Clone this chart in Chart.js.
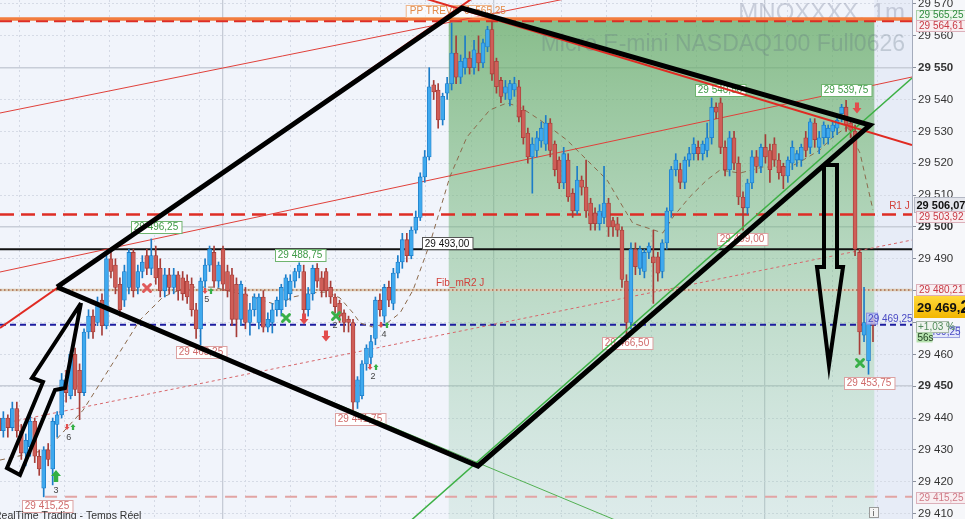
<!DOCTYPE html>
<html>
<head>
  <title>MNQXXXX 1m</title>
  <meta http-equiv="Content-Type" content="text/html; charset=utf-8" />
  <script src="https://cdn.jsdelivr.net/npm/chart.js@4.4.0/dist/chart.umd.min.js"></script>
  <style>
    html, body { margin: 0; padding: 0; background: #f6f7fa; overflow: hidden; }
    #wrap { width: 965px; height: 519px; }
  </style>
</head>
<body>
  <div id="wrap"><canvas id="chart" width="965" height="519"></canvas></div>
  <script>
    // candles, one per minute
    var opens = [
      29440,29436,29440,29437,29443,29436,29429,29431,29439,29428,
      29418,29430,29424,29438,29441,29452,29447,29460,29455,29448,
      29467,29472,29470,29477,29469,29490,29488,29482,29477,29481,
      29492,29481,29486,29491,29487,29491,29487,29480,29485,29481,
      29485,29484,29483,29482,29474,29468,29483,29488,29492,29483,
      29493,29486,29485,29482,29471,29479,29470,29474,29470,29478,
      29468.5,29470,29474,29474,29477,29479,29483,29486,29486,29474,
      29479,29487,29484,29486,29481,29478,29476,29473,29471,29470,
      29445,29447,29457,29459,29465,29477,29472,29481,29476,29485.5,
      29489,29496,29491,29499,29503,29515.7,29522,29544.6,29543,29533.6,
      29542,29545,29554.6,29547,29550,29553,29550,29554.6,29551.5,29556.5,
      29562,29552,29546,29542,29540,29543,29544,29536.7,29529.5,29522,
      29524,29527,29526,29532.6,29526,29521,29513.8,29521,29510.6,29505,
      29514.7,29512.5,29507.5,29504.4,29501,29503,29507.5,29502,29501,29499,
      29483,29470,29493,29487,29486,29492,29490.6,29490.6,29486,29495,
      29505,29518,29518,29514,29521,29523,29525,29523,29524,29528,
      29537.6,29539,29525,29518,29528,29520,29509.4,29506,29513.8,29522,
      29519,29525,29524,29526,29521,29519,29516,29520,29521,29521,
      29528,29525,29532.6,29525,29528,29528,29530,29531,29535.6,29537.6,
      29532.6,29530,29492,29466,29458,29471
    ];
    var highs = [
      29442,29442,29441,29445,29445,29438,29435,29442,29440,29430,
      29431,29432,29440,29442,29454,29455,29461,29462,29457,29468,
      29474,29474,29478,29479,29491,29492,29490,29484,29488,29493,
      29493,29488,29491,29493,29496.25,29494,29490,29487,29487,29487,
      29486,29486,29485,29484,29476,29484,29490,29494,29494,29489,
      29494,29488,29487,29484,29483,29481,29476,29479,29479,29480,
      29473,29476,29478,29482,29485,29485,29487,29488.75,29488,29481,
      29488,29488.5,29486,29487,29483,29479,29477,29474,29472,29471,
      29453,29458,29463,29466,29478,29479,29482,29483,29487,29491,
      29498,29498,29500,29505,29517,29524,29550,29546,29545,29542,
      29547,29564,29560,29554,29560,29555,29558.6,29560,29559,29563,
      29564.5,29553,29547,29546,29546,29547,29546,29538,29531,29528,
      29530,29533,29535,29534,29527,29522,29525,29523,29512,29519,
      29516,29521,29509,29506,29507,29519,29509,29503,29503,29500,
      29485,29495,29495,29494,29493,29495,29499,29492,29496,29506,
      29519,29523,29520,29522,29525,29528,29527,29527,29532.6,29540.5,
      29539,29540.5,29527,29530,29530,29522,29511,29515,29524,29524,
      29526,29529,29526,29528,29523,29520,29522,29527,29524,29526,
      29530,29534,29534,29530,29533,29532,29533,29534,29538.5,29539.75,
      29534,29532,29493,29481,29472,29472
    ];
    var lows = [
      29433,29434,29434,29436,29434,29427,29425,29428,29426,29422,
      29415.25,29425,29419,29434,29440,29445,29446,29447,29439.5,29447,
      29465,29465,29469,29466,29468,29484,29479,29472,29475,29479,
      29478,29479,29484,29485,29485,29482,29478,29478,29479,29479,
      29477,29477,29476,29472,29465,29463,29481,29486,29481,29481,
      29480,29478,29469,29465.5,29469,29468,29466,29472,29468,29467,
      29467,29466.7,29472,29472,29475,29477,29481,29484,29472,29472,
      29477,29481,29478,29478,29476,29473,29470,29467,29467,29441.75,
      29443,29446,29455,29457,29463,29472,29470,29475,29474,29484,
      29487,29489,29490,29498,29502,29514,29521,29540,29531,29532,
      29540,29543,29545,29545,29548,29548,29548,29549,29550,29555,
      29546,29542,29539,29540,29538,29541,29533,29526,29520,29510.6,
      29522,29525,29524,29522,29516,29512,29512,29508,29503,29504,
      29510,29503,29499,29499,29499,29501,29497,29497,29497,29481,
      29466.5,29468,29485,29485,29484,29490,29476,29483,29484,29493,
      29503,29516,29512,29512,29519,29521,29521,29521,29522,29526,
      29534,29523,29516,29516,29518,29507,29499,29504,29512,29517,
      29517,29520,29514,29519,29515,29512,29514,29518,29519,29519,
      29522,29523,29525,29523,29526,29526,29528,29529,29533,29530,
      29528,29491,29460,29464,29453.75,29464
    ];
    var closes = [
      29436,29440,29437,29443,29436,29429,29433,29439,29428,29424,
      29430,29427,29439,29441,29452,29448,29460,29449,29448,29467,
      29472,29467,29476,29469,29490,29486,29481,29474,29486,29492,
      29480,29486,29489,29487,29491,29484,29480,29485,29481,29485,
      29480,29479,29478,29474,29468,29483,29488,29493,29483,29488,
      29482,29480,29471,29471,29482,29470,29474,29478,29478,29468.5,
      29471,29474,29477,29481,29484,29483,29486,29488,29474,29479,
      29487,29483,29480,29480,29478,29475,29472,29470,29470,29445,
      29452,29457,29462,29464,29477,29474,29481,29477,29485.5,29489,
      29496,29491,29499,29503,29515.7,29522,29544,29542.4,29533.6,29541,
      29545,29554.6,29547,29552,29553,29550,29555.6,29551.5,29557.8,29562,
      29548,29544,29541,29544,29545,29545,29534.5,29528,29522,29526,
      29528,29531,29532.6,29524,29518,29513.8,29523,29509.4,29505,29514.7,
      29512.5,29505,29501,29501,29505,29507.5,29500,29500,29499,29483.5,
      29470,29493,29487.5,29493,29492,29494,29488.7,29485.5,29495,29505,
      29518,29521,29514,29521,29523,29526,29523,29526,29528,29537.6,
      29536,29525,29518,29528,29520,29509.4,29506,29513.8,29522,29519,
      29525,29522,29518,29521,29517,29516,29521,29525,29523,29525,
      29524,29533,29527.4,29528,29532,29531,29532,29533.5,29537.6,29532,
      29530.4,29493,29467,29470,29471,29469.25
    ];

    // moving average (dashed brown), sampled points
    var maIdx = [0.25,10.7,18.8,31.5,36.6,41.9,47.8,56.7,62,65.6,70,73.2,76.1,79,80.6,83.4,86.6,89.5,92.4,96.2,
                 100.6,104.4,109.5,113.3,116.2,120.7,126.7,131.2,135.7,139.2,141.4,148.1,150.4,154.1,157.9,160.9,
                 165.3,170.4,176.5,179.4,183.2,186,189.2,192.1,195];
    var maVal = [29426.8,29430,29442.5,29470.8,29478,29481.1,29481.1,29478,29475.5,29478,29479.3,29479.6,29477.7,
                 29473,29469.8,29468.6,29469.8,29473,29480.2,29495,29515.7,29528.2,29536.7,29538.9,29537.7,29533.6,
                 29527.3,29521,29514.7,29506.3,29501.2,29498.1,29503.1,29509.4,29514.7,29517.9,29516.9,29518.8,
                 29518.8,29521,29524.2,29528.2,29531.4,29523.2,29505.3];

    // horizontal levels
    var levelOrange = 29565.25, levelPPRed = 29564.61, levelR1 = 29503.92, levelRef = 29493.00;
    var levelFib = 29480.21, levelLast = 29469.25, levelLow = 29415.25;

    // trend lines [idx0, idx1], [price0, price1]
    var r1Idx = [0.25, 107.33],  r1Val = [29468.27, 29573.45];
    var r2Idx = [89.48, 203.7],  r2Val = [29574.1, 29525.72];
    var r3Idx = [0.25, 134.1],   r3Val = [29535.77, 29573.8];
    var r4Idx = [0.25, 203.7],   r4Val = [29485.85, 29547.07];
    var g1Idx = [89.48, 203.7],  g1Val = [29404.8, 29546.76];
    var g2Idx = [18.1, 138.56],  g2Val = [29477.99, 29407.36];
    var pkIdx = [0.25, 203.7],   pkVal = [29438.13, 29495.9];

    // hand drawn shapes
    var diamondIdx = [12.97, 103.31, 194.33, 106.88, 12.97];
    var diamondVal = [29481.14, 29568.74, 29532.0, 29424.94, 29481.14];
    var upArrowIdx = [18.32, 14.75, 12.52, 4.71, 1.81, 9.84, 7.39, 18.32];
    var upArrowVal = [29476.12, 29449.43, 29448.8, 29422.11, 29424.31, 29451.31, 29452.57, 29476.12];
    var dnArrowIdx = [184.07, 186.97, 186.97, 188.31, 185.18, 182.51, 184.07, 184.07];
    var dnArrowVal = [29519.45, 29519.45, 29487.42, 29487.42, 29456.65, 29487.42, 29487.42, 29519.45];

    // price notes on the chart
    var noteText = ['29 496,25','29 488,75','29 493,00','29 540,50','29 539,75','29 499,00','29 466,50','29 463,25','29 441,75','29 415,25','29 453,75'];
    var noteIdx = [35.05, 67.18, 99.97, 160.87, 188.98, 165.78, 140.12, 45.09, 80.56, 10.73, 194.11];
    var noteVal = [29500.0, 29491.19, 29494.8, 29542.99, 29542.99, 29496.2, 29463.56, 29460.73, 29439.7, 29412.38, 29450.99];
    var noteKind = ['hi','hi','ref','hi','hi','lo','lo','lo','lo','lo','lo'];

    // signal markers
    var markKind = ['xr','xg','xg','xg','dn','dn','dn','up','pair','pair','pair','pair'];
    var markIdx = [33.04, 64.05, 75.21, 192.1, 68.07, 72.97, 191.43, 12.74, 15.87, 46.65, 85.91, 83.46];
    var markVal = [29480.83, 29471.41, 29472.03, 29457.28, 29471.09, 29465.76, 29537.34, 29421.8, 29437.18, 29479.9, 29469.21, 29456.02];
    var numText = ['3','6','5','4','2','2'];
    var numIdx = [12.74, 15.6, 46.4, 85.9, 83.46, 75.0];
    var numVal = [29417.4, 29434.0, 29477.06, 29466.07, 29452.88, 29468.9];

    // right axis tags
    var tagText = ['29 565,25','29 564,61','29 506,07','29 503,92','29 480,21','29 415,25'];
    var tagVal = [29566.54, 29563.24, 29506.89, 29503.12, 29480.2, 29415.05];
    var tagKind = ['g','r','bold','r','r','p'];

    var zoneStart = 100.35, zoneEnd = 195.3;
    var X_MIN = 0.25, X_MAX = 203.7, Y_MIN = 29408.3, Y_MAX = 29571.25;
    var yTicks = [29410,29420,29430,29440,29450,29460,29470,29480,29490,29500,29510,29520,29530,29540,29550,29560,29570];
    var yMajor = [29450, 29500, 29550];
    var gridStep = 10.08, gridStart = 19.65;

    var FONT = '"Liberation Sans", Arial, sans-serif';
    var UP = '#3fa9ee', UP_EDGE = '#1c7cc8', DN = '#cf5e58', DN_EDGE = '#a63d38';

    var idx = opens.map(function (v, i) { return i; });
    var minorX = [], majorX = [];
    for (var k = -1; k < 19; k++) {
      minorX.push(gridStart + k * gridStep);
      if (k % 6 === 0) majorX.push(gridStart + k * gridStep);
    }

    function pts(xs, ys) { return xs.map(function (x, i) { return { x: x, y: ys[i] }; }); }
    function flat(p, from) { return [{ x: from === undefined ? X_MIN : from, y: p }, { x: X_MAX, y: p }]; }
    function line(data, color, width, dash, order) {
      return { type: 'line', data: data, borderColor: color, borderWidth: width, borderDash: dash || [],
               pointRadius: 0, fill: false, tension: 0, order: order, borderJoinStyle: 'miter' };
    }
    function fmt(v) { return String(v).replace(/\B(?=(\d{3})+(?!\d))/g, ' '); }
    var isUp = function (i) { return closes[i] >= opens[i]; };

    var backdrop = {
      id: 'backdrop',
      beforeDraw: function (chart) {
        var ctx = chart.ctx, a = chart.chartArea;
        ctx.save();
        ctx.fillStyle = '#f6f7fa';
        ctx.fillRect(0, 0, chart.width, chart.height);
        ctx.fillStyle = '#f1f4fb';
        ctx.fillRect(a.left, a.top, a.right - a.left, a.bottom - a.top);
        var xe = chart.scales.x.getPixelForValue(zoneEnd);
        ctx.fillStyle = '#e7ecf7';
        ctx.fillRect(xe, a.top, a.right - xe, a.bottom - a.top);
        ctx.restore();
      },
      beforeDatasetsDraw: function (chart) {
        var ctx = chart.ctx, a = chart.chartArea, sx = chart.scales.x, sy = chart.scales.y;
        var x0 = sx.getPixelForValue(zoneStart), x1 = sx.getPixelForValue(zoneEnd);
        var top = sy.getPixelForValue(levelOrange);
        ctx.save();
        var g = ctx.createLinearGradient(0, top, 0, a.bottom);
        g.addColorStop(0, 'rgba(100,170,100,0.74)');
        g.addColorStop(0.5, 'rgba(118,184,128,0.46)');
        g.addColorStop(1, 'rgba(150,204,176,0.22)');
        ctx.fillStyle = g;
        ctx.fillRect(x0, top, x1 - x0, a.bottom - top);
        ctx.textAlign = 'right';
        ctx.textBaseline = 'alphabetic';
        ctx.font = '24px ' + FONT;
        ctx.fillStyle = 'rgba(150,158,178,0.45)';
        ctx.fillText('MNQXXXX, 1m', 905, 20);
        ctx.font = '23px ' + FONT;
        ctx.fillStyle = 'rgba(95,110,125,0.28)';
        ctx.fillText('Micro E-mini NASDAQ100 Full0626', 905, 51);
        ctx.restore();
      },
      afterDatasetDraw: function (chart, args) {
        if (chart.data.datasets[args.index].label !== 'bodies') return;
        var ctx = chart.ctx, sx = chart.scales.x, sy = chart.scales.y;
        ctx.save();
        ctx.font = '10px ' + FONT;
        ctx.textBaseline = 'middle';
        ctx.textAlign = 'center';
        noteText.forEach(function (t, i) {
          var cx = sx.getPixelForValue(noteIdx[i]), cy = sy.getPixelForValue(noteVal[i]);
          var w = ctx.measureText(t).width + 6, h = 12;
          var bx = Math.round(cx - w / 2) + 0.5, by = Math.round(cy - h / 2) + 0.5;
          var kind = noteKind[i];
          ctx.fillStyle = '#ffffff';
          ctx.fillRect(bx, by, w, h);
          ctx.strokeStyle = kind === 'hi' ? '#6fb46f' : kind === 'ref' ? '#555555' : '#dca2a2';
          ctx.lineWidth = 1;
          ctx.strokeRect(bx, by, w, h);
          ctx.fillStyle = kind === 'hi' ? '#3f9a46' : kind === 'ref' ? '#111111' : '#cf6b6b';
          ctx.fillText(t, cx, cy + 0.5);
        });
        // PP label box
        var px = sx.getPixelForValue(zoneStart) - 43, py = sy.getPixelForValue(29567.8);
        ctx.fillStyle = 'rgba(255,255,255,0.55)';
        ctx.fillRect(px + 0.5, Math.round(py - 6) + 0.5, 85, 12);
        ctx.strokeStyle = '#f0b68a';
        ctx.strokeRect(px + 0.5, Math.round(py - 6) + 0.5, 85, 12);
        ctx.fillStyle = '#e38a48';
        ctx.textAlign = 'left';
        ctx.fillText('PP TREVE  J  565,25', px + 4, py + 0.5);
        ctx.fillStyle = '#d2403a';
        ctx.fillText('Fib_mR2 J', sx.getPixelForValue(97.5), sy.getPixelForValue(29482.2));
        ctx.fillText('R1 J', sx.getPixelForValue(198.6), sy.getPixelForValue(29506.5));
        // last price note
        var lx = sx.getPixelForValue(193.9), ly = sy.getPixelForValue(29471.2);
        ctx.fillStyle = 'rgba(190,200,250,0.8)';
        ctx.fillRect(lx - 1.5, ly - 5.5, 11, 11);
        ctx.strokeStyle = '#8a8ee0';
        ctx.strokeRect(lx - 1.5, ly - 5.5, 11, 11);
        ctx.fillStyle = '#4a4ac4';
        ctx.fillText('29 469,25', lx, ly + 0.5);
        // markers
        markKind.forEach(function (k, i) {
          var mx = sx.getPixelForValue(markIdx[i]), my = sy.getPixelForValue(markVal[i]);
          if (k === 'xr' || k === 'xg') cross(ctx, mx, my, k === 'xr' ? '#e05a5a' : '#38b048');
          else if (k === 'dn') block(ctx, mx, my, 9, 1, '#e24c4c');
          else if (k === 'up') block(ctx, mx, my, 10, -1, '#33b043');
          else { block(ctx, mx - 3, my, 5, 1, '#e05050'); block(ctx, mx + 3, my, 5, -1, '#36b046'); }
        });
        ctx.font = '9px ' + FONT;
        ctx.fillStyle = '#444444';
        ctx.textAlign = 'center';
        numText.forEach(function (t, i) {
          ctx.fillText(t, sx.getPixelForValue(numIdx[i]), sy.getPixelForValue(numVal[i]));
        });
        ctx.restore();
      },
      afterDraw: function (chart) {
        var ctx = chart.ctx, sy = chart.scales.y, a = chart.chartArea;
        var left = a.right + 4;
        ctx.save();
        ctx.textBaseline = 'middle';
        ctx.textAlign = 'left';
        tagText.forEach(function (t, i) {
          var cy = sy.getPixelForValue(tagVal[i]), kind = tagKind[i];
          var bold = kind === 'bold';
          ctx.font = (bold ? 'bold 11px ' : '10px ') + FONT;
          var w = ctx.measureText(t).width + (bold ? 4 : 6), h = bold ? 15 : 11;
          var bx = bold ? left - 1.5 : left + 0.5;
          var by = Math.round(cy - h / 2) + 0.5;
          ctx.fillStyle = kind === 'g' ? '#eef7ee' : bold ? '#e3e5ec' : '#f8eef1';
          ctx.fillRect(bx, by, w, h);
          ctx.strokeStyle = kind === 'g' ? '#a8cfa8' : bold ? '#b4b8c4' : '#dcb0ba';
          ctx.lineWidth = 1;
          ctx.strokeRect(bx, by, w, h);
          ctx.fillStyle = kind === 'g' ? '#2f8c3e' : bold ? '#111111' : kind === 'p' ? '#d07a86' : '#c83a44';
          ctx.fillText(t, bx + (bold ? 2 : 2.5), cy + 0.5);
        });
        // hidden last price tag and change / countdown
        var cy = sy.getPixelForValue(29467.0);
        ctx.font = '10px ' + FONT;
        ctx.fillStyle = '#e4e8fa';
        ctx.fillRect(left + 13.5, cy - 5.5, 30, 11);
        ctx.strokeStyle = '#9aa0e0';
        ctx.strokeRect(left + 13.5, cy - 5.5, 30, 11);
        ctx.fillStyle = '#4a4ac4';
        ctx.fillText('469,25', left + 14, cy + 0.5);
        cy = sy.getPixelForValue(29468.58);
        ctx.fillStyle = '#eef3ee';
        ctx.fillRect(left + 0.5, cy - 5.5, 32, 11);
        ctx.strokeStyle = '#a8b8a8';
        ctx.strokeRect(left + 0.5, cy - 5.5, 32, 11);
        ctx.fillStyle = '#4f8a58';
        ctx.fillText('+1,03 %', left + 2, cy + 0.5);
        cy = sy.getPixelForValue(29465.3);
        ctx.fillStyle = '#b6e2ae';
        ctx.fillRect(left + 0.5, cy - 5, 16, 10);
        ctx.fillStyle = '#1d3d1d';
        ctx.fillText('56s', left + 1.5, cy + 0.5);
        // yellow last price
        cy = sy.getPixelForValue(29474.86);
        var g = ctx.createLinearGradient(0, cy - 11, 0, cy + 11);
        g.addColorStop(0, '#ffd83a');
        g.addColorStop(1, '#f2b600');
        ctx.fillStyle = g;
        ctx.fillRect(a.right + 2, cy - 11, 60, 22);
        ctx.fillStyle = '#111111';
        ctx.font = 'bold 13px ' + FONT;
        ctx.fillText('29 469,', left + 1, cy + 1);
        var w = ctx.measureText('29 469,').width;
        ctx.font = 'bold 19px ' + FONT;
        ctx.fillText('25', left + 1 + w, cy + 0.5);
        // footer and info icon
        ctx.font = '10.5px ' + FONT;
        ctx.fillStyle = '#333333';
        ctx.textBaseline = 'alphabetic';
        ctx.fillText('RealTime Trading - Temps Réel', -6, 519);
        ctx.strokeStyle = '#9a9a9a';
        ctx.fillStyle = '#f4f4f4';
        ctx.fillRect(869.5, 507.5, 9, 10);
        ctx.strokeRect(869.5, 507.5, 9, 10);
        ctx.fillStyle = '#555555';
        ctx.font = '9px ' + FONT;
        ctx.fillText('i', 872.5, 516);
        ctx.restore();
      }
    };

    function cross(ctx, x, y, color) {
      ctx.save();
      ctx.strokeStyle = color;
      ctx.lineWidth = 3;
      ctx.lineCap = 'round';
      ctx.beginPath();
      ctx.moveTo(x - 3.5, y - 3.5); ctx.lineTo(x + 3.5, y + 3.5);
      ctx.moveTo(x + 3.5, y - 3.5); ctx.lineTo(x - 3.5, y + 3.5);
      ctx.stroke();
      ctx.restore();
    }

    function block(ctx, x, y, s, dir, color) {
      var h = s * 1.2, sh = s * 0.45;
      ctx.save();
      ctx.fillStyle = color;
      ctx.beginPath();
      ctx.moveTo(x - sh / 2, y - dir * h / 2);
      ctx.lineTo(x + sh / 2, y - dir * h / 2);
      ctx.lineTo(x + sh / 2, y);
      ctx.lineTo(x + s / 2, y);
      ctx.lineTo(x, y + dir * h / 2);
      ctx.lineTo(x - s / 2, y);
      ctx.lineTo(x - sh / 2, y);
      ctx.closePath();
      ctx.fill();
      ctx.restore();
    }

    var datasets = [
      line(flat(levelOrange), '#f27d3e', 3.5, [], 30),
      line(flat(levelPPRed), '#de2d25', 2, [12, 6], 29),
      line(flat(levelR1), '#de2d25', 2.5, [14, 7], 29),
      line(flat(levelRef), '#111111', 2, [], 29),
      line(flat(levelFib), '#dccbb4', 2.5, [], 29),
      line(flat(levelFib), '#a8684a', 1.5, [1.5, 2.5], 28),
      line(flat(levelLast), '#1d1da0', 2, [6, 4], 28),
      line(flat(levelLow, 10.3), '#e2a4a4', 2, [12, 8], 28),
      line(pts(r3Idx, r3Val), '#e0403a', 1, [], 27),
      line(pts(r4Idx, r4Val), '#e0403a', 1, [], 27),
      line(pts(pkIdx, pkVal), '#d8676b', 1, [3, 3], 27),
      line(pts(maIdx, maVal), '#8c6a4c', 1, [5, 4], 26),
      {
        type: 'bar', label: 'wicks', order: 25, grouped: false, barThickness: 1,
        data: idx.map(function (i) { return { x: i, y: [lows[i], highs[i]] }; }),
        backgroundColor: idx.map(function (i) { return isUp(i) ? UP_EDGE : DN_EDGE; })
      },
      {
        type: 'bar', label: 'bodies', order: 24, grouped: false, barThickness: 4, minBarLength: 1,
        borderWidth: 0.8, borderSkipped: false,
        data: idx.map(function (i) { return { x: i, y: [opens[i], closes[i]] }; }),
        backgroundColor: idx.map(function (i) { return isUp(i) ? UP : DN; }),
        borderColor: idx.map(function (i) { return isUp(i) ? UP_EDGE : DN_EDGE; })
      },
      line(pts(r1Idx, r1Val), '#e02a22', 2, [], 12),
      line(pts(r2Idx, r2Val), '#e02a22', 2, [], 12),
      line(pts(g1Idx, g1Val), '#3cb044', 1.5, [], 12),
      line(pts(g2Idx, g2Val), '#52b052', 1, [], 12),
      line(pts(diamondIdx, diamondVal), '#000000', 5, [], 5),
      line(pts(upArrowIdx, upArrowVal), '#000000', 4, [], 4),
      line(pts(dnArrowIdx, dnArrowVal), '#000000', 4, [], 4)
    ];

    var xBase = { type: 'linear', min: X_MIN, max: X_MAX, offset: false, position: 'bottom' };

    new Chart(document.getElementById('chart'), {
      type: 'bar',
      data: { datasets: datasets },
      options: {
        responsive: false,
        devicePixelRatio: 1,
        animation: false,
        events: [],
        layout: { padding: 0 },
        plugins: { legend: { display: false }, tooltip: { enabled: false } },
        scales: {
          x: Object.assign({}, xBase, {
            ticks: { display: false },
            border: { display: false, dash: [2, 3] },
            grid: { color: '#d4d9e5', drawTicks: false, lineWidth: 1 },
            afterBuildTicks: function (s) { s.ticks = minorX.map(function (v) { return { value: v }; }); }
          }),
          x2: Object.assign({}, xBase, {
            ticks: { display: false },
            border: { display: false },
            grid: { color: '#c6cbd6', drawTicks: false, lineWidth: 1.3 },
            afterBuildTicks: function (s) { s.ticks = majorX.map(function (v) { return { value: v }; }); }
          }),
          y: {
            type: 'linear', position: 'right', min: Y_MIN, max: Y_MAX,
            afterBuildTicks: function (s) { s.ticks = yTicks.map(function (v) { return { value: v }; }); },
            afterFit: function (s) { s.width = 53; s.paddingTop = 0; s.paddingBottom = 0; },
            grid: { color: '#d6dbe6', lineWidth: 1, tickLength: 4, tickColor: '#8a8f9c' },
            border: { display: true, color: '#a4abbb', dash: [2, 2] },
            ticks: {
              padding: 2,
              color: '#333333',
              font: function (c) {
                return { family: FONT, size: 11.5, weight: c.tick && yMajor.indexOf(c.tick.value) >= 0 ? 'bold' : 'normal' };
              },
              callback: function (v) { return (v === 29470 || v === 29480) ? '' : fmt(v); }
            }
          },
          y2: {
            type: 'linear', position: 'right', min: Y_MIN, max: Y_MAX,
            afterBuildTicks: function (s) { s.ticks = yMajor.map(function (v) { return { value: v }; }); },
            afterFit: function (s) { s.width = 0; s.paddingTop = 0; s.paddingBottom = 0; },
            ticks: { display: false },
            border: { display: false },
            grid: { color: '#c8cdd8', lineWidth: 1.5, drawTicks: false }
          }
        }
      },
      plugins: [backdrop]
    });
  </script>
</body>
</html>
